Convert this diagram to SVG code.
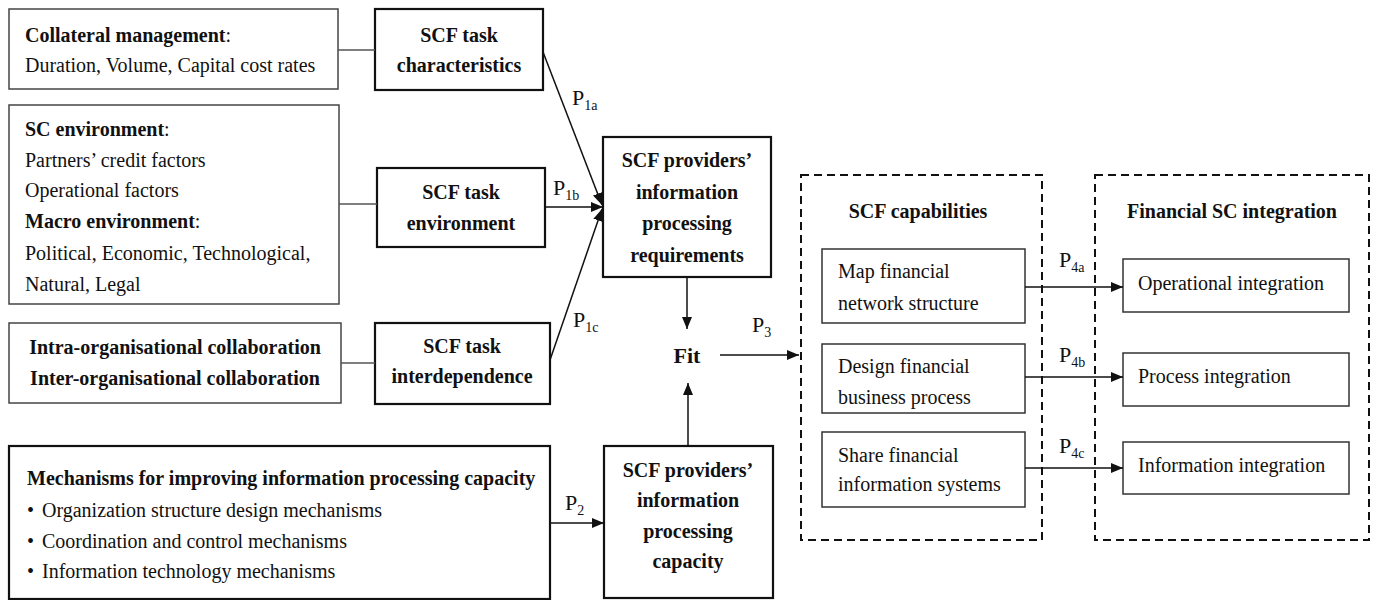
<svg xmlns="http://www.w3.org/2000/svg" width="1378" height="600" viewBox="0 0 1378 600">
<style>
.thin{fill:#fff;stroke:#444;stroke-width:1.5}
.thick{fill:#fff;stroke:#111;stroke-width:2.2}
.inner{fill:#fff;stroke:#333;stroke-width:1.5}
.dash{fill:none;stroke:#111;stroke-width:2;stroke-dasharray:8 5}
text{font-family:"Liberation Serif","Times New Roman",serif;font-size:20px;fill:#111}
.b{font-weight:bold}
.c{text-anchor:middle}
.p{font-size:22px}
.sub{font-size:14px}
.ln{stroke:#555;stroke-width:1.5;fill:none}
.ar{stroke:#111;stroke-width:1.5;fill:none;marker-end:url(#ah)}
</style>
<defs>
<marker id="ah" viewBox="0 0 12 10" refX="12" refY="5" markerWidth="12" markerHeight="10" markerUnits="userSpaceOnUse" orient="auto">
<path d="M0,0 L12,5 L0,10 Z" fill="#111"/>
</marker>
</defs>
<rect width="1378" height="600" fill="#fff"/>

<g id="collateral">
<rect class="thin" x="9" y="9" width="329" height="80"/>
<text x="25" y="42"><tspan class="b">Collateral management</tspan>:</text>
<text x="25" y="72">Duration, Volume, Capital cost rates</text>
</g>
<g id="task-characteristics">
<rect class="thick" x="375" y="9" width="168" height="81"/>
<text class="b c" x="459" y="42">SCF task</text>
<text class="b c" x="459" y="72">characteristics</text>
</g>
<g id="environment">
<rect class="thin" x="9" y="105" width="330" height="199"/>
<text x="25" y="136"><tspan class="b">SC environment</tspan>:</text>
<text x="25" y="167">Partners’ credit factors</text>
<text x="25" y="197">Operational factors</text>
<text x="25" y="228"><tspan class="b">Macro environment</tspan>:</text>
<text x="25" y="260">Political, Economic, Technological,</text>
<text x="25" y="291">Natural, Legal</text>
</g>
<g id="task-environment">
<rect class="thick" x="377" y="168" width="168" height="79"/>
<text class="b c" x="461" y="199">SCF task</text>
<text class="b c" x="461" y="230">environment</text>
</g>
<g id="collaboration">
<rect class="thin" x="9" y="323" width="332" height="80"/>
<text class="b c" x="175" y="354">Intra-organisational collaboration</text>
<text class="b c" x="175" y="385">Inter-organisational collaboration</text>
</g>
<g id="task-interdependence">
<rect class="thick" x="375" y="323" width="175" height="81"/>
<text class="b c" x="462" y="353">SCF task</text>
<text class="b c" x="462" y="383">interdependence</text>
</g>
<g id="mechanisms">
<rect class="thick" x="9" y="446" width="541" height="153"/>
<text class="b" x="27" y="485">Mechanisms for improving information processing capacity</text>
<text x="27" y="517">•</text><text x="42" y="517">Organization structure design mechanisms</text>
<text x="27" y="548">•</text><text x="42" y="548">Coordination and control mechanisms</text>
<text x="27" y="578">•</text><text x="42" y="578">Information technology mechanisms</text>
</g>
<g id="requirements">
<rect class="thick" x="603" y="137" width="168" height="140"/>
<text class="b c" x="687" y="167">SCF providers’</text>
<text class="b c" x="687" y="199">information</text>
<text class="b c" x="687" y="230">processing</text>
<text class="b c" x="687" y="262">requirements</text>
</g>
<g id="capacity">
<rect class="thick" x="604" y="446" width="169" height="152"/>
<text class="b c" x="688" y="477">SCF providers’</text>
<text class="b c" x="688" y="507">information</text>
<text class="b c" x="688" y="538">processing</text>
<text class="b c" x="688" y="568">capacity</text>
</g>
<g id="fit">
<text class="b c p" x="687" y="363">Fit</text>
</g>
<g id="capabilities">
<rect class="dash" x="801" y="175" width="241" height="365"/>
<text class="b c" x="918" y="218">SCF capabilities</text>
<rect class="inner" x="822" y="249" width="203" height="74"/>
<text x="838" y="278">Map financial</text>
<text x="838" y="310">network structure</text>
<rect class="inner" x="822" y="344" width="203" height="69"/>
<text x="838" y="373">Design financial</text>
<text x="838" y="404">business process</text>
<rect class="inner" x="822" y="432" width="203" height="75"/>
<text x="838" y="462">Share financial</text>
<text x="838" y="491">information systems</text>
</g>
<g id="integration">
<rect class="dash" x="1095" y="175" width="274" height="365"/>
<text class="b c" x="1232" y="218">Financial SC integration</text>
<rect class="inner" x="1123" y="259" width="226" height="53"/>
<text x="1138" y="290">Operational integration</text>
<rect class="inner" x="1123" y="353" width="226" height="53"/>
<text x="1138" y="383">Process integration</text>
<rect class="inner" x="1123" y="442" width="226" height="52"/>
<text x="1138" y="472">Information integration</text>
</g>

<g id="connectors">
<line class="ln" x1="338" y1="50" x2="375" y2="50"/>
<line class="ln" x1="339" y1="204" x2="377" y2="204"/>
<line class="ln" x1="341" y1="363" x2="375" y2="363"/>
<line class="ar" x1="543" y1="52" x2="602" y2="205"/>
<line class="ar" x1="545" y1="207" x2="603" y2="207"/>
<line class="ar" x1="550" y1="360" x2="602" y2="209"/>
<line class="ar" x1="687" y1="277" x2="687" y2="329"/>
<line class="ar" x1="688" y1="446" x2="688" y2="383"/>
<line class="ar" x1="720" y1="355" x2="799" y2="355"/>
<line class="ar" x1="550" y1="523" x2="604" y2="523"/>
<line class="ar" x1="1025" y1="287" x2="1123" y2="287"/>
<line class="ar" x1="1025" y1="377" x2="1123" y2="377"/>
<line class="ar" x1="1025" y1="468" x2="1123" y2="468"/>
<text class="p" x="572" y="105">P<tspan class="sub" dy="5">1a</tspan></text>
<text class="p" x="553" y="195">P<tspan class="sub" dy="5">1b</tspan></text>
<text class="p" x="573" y="327">P<tspan class="sub" dy="5">1c</tspan></text>
<text class="p" x="565" y="510">P<tspan class="sub" dy="5">2</tspan></text>
<text class="p" x="752" y="332">P<tspan class="sub" dy="5">3</tspan></text>
<text class="p" x="1059" y="267">P<tspan class="sub" dy="5">4a</tspan></text>
<text class="p" x="1059" y="362">P<tspan class="sub" dy="5">4b</tspan></text>
<text class="p" x="1059" y="453">P<tspan class="sub" dy="5">4c</tspan></text>
</g>
</svg>
